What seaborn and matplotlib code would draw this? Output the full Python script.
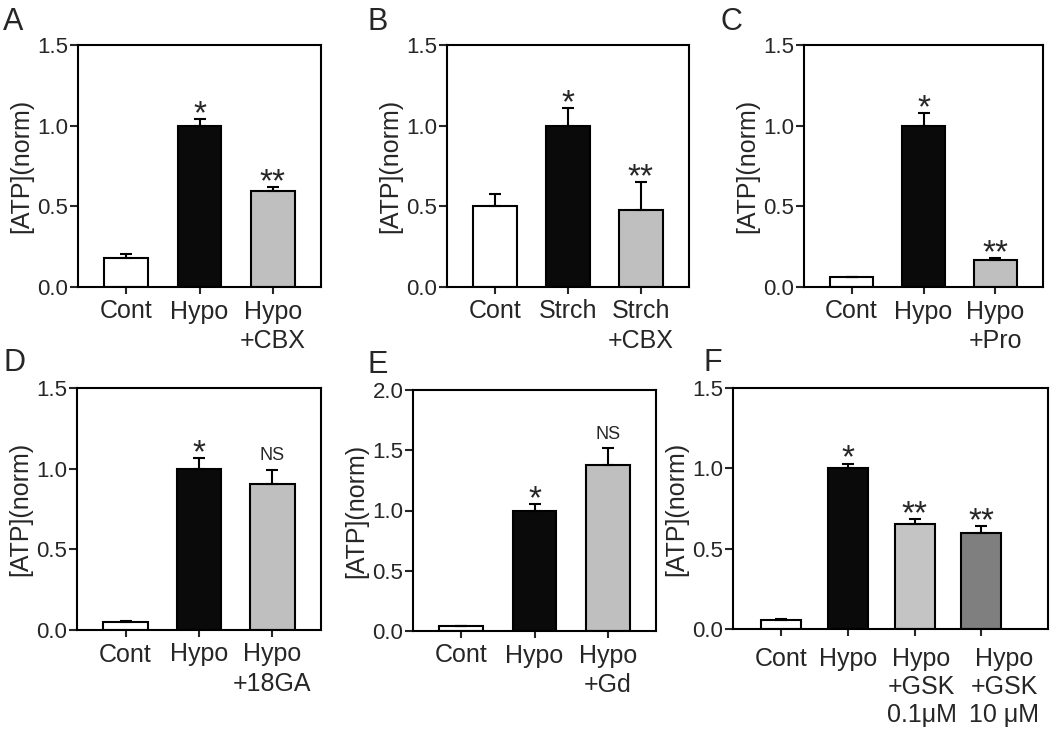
import numpy as np
import matplotlib
matplotlib.use("Agg")
import matplotlib.pyplot as plt
import matplotlib.transforms as mtransforms
import seaborn as sns

sns.set_style("ticks")
plt.rcParams["font.family"] = ["Liberation Sans", "DejaVu Sans"]

WHITE = "#ffffff"
BLACK = "#0a0a0a"
GRAY = "#bfbfbf"
DARK = "#7f7f7f"

# panel A
a_labels = ["Cont", "Hypo", "Hypo\n+CBX"]
a_means = [0.18, 1.00, 0.595]
a_errs = [0.022, 0.04, 0.025]
a_marks = ["", "*", "**"]

# panel B
b_labels = ["Cont", "Strch", "Strch\n+CBX"]
b_means = [0.50, 1.00, 0.477]
b_errs = [0.075, 0.11, 0.175]
b_marks = ["", "*", "**"]

# panel C
c_labels = ["Cont", "Hypo", "Hypo\n+Pro"]
c_means = [0.062, 1.00, 0.17]
c_errs = [0.003, 0.08, 0.008]
c_marks = ["", "*", "**"]

# panel D
d_labels = ["Cont", "Hypo", "Hypo\n+18GA"]
d_means = [0.052, 1.00, 0.903]
d_errs = [0.003, 0.064, 0.09]
d_marks = ["", "*", "NS"]

# panel E
e_labels = ["Cont", "Hypo", "Hypo\n+Gd"]
e_means = [0.041, 1.00, 1.378]
e_errs = [0.003, 0.05, 0.14]
e_marks = ["", "*", "NS"]

# panel F
f_labels = ["Cont", "Hypo", "Hypo\n+GSK\n0.1μM", "Hypo\n+GSK\n10 μM"]
f_means = [0.058, 1.00, 0.653, 0.595]
f_errs = [0.003, 0.03, 0.031, 0.048]
f_marks = ["", "*", "**", "**"]

three_colors = [WHITE, BLACK, GRAY]
four_colors = [WHITE, BLACK, "#c4c4c4", DARK]

fig = plt.figure(figsize=(10.5, 7.3), dpi=100)
W, H = 1050, 730


def add_ax(x0, y0, x1, y1):
    return fig.add_axes([x0 / W, 1 - y1 / H, (x1 - x0) / W, (y1 - y0) / H])


def draw_panel(ax, labels, means, errs, marks, colors, ymax, xlim, tickpad=4, spacing=1.3):
    n = len(means)
    sns.barplot(x=labels, y=means, hue=labels, palette=colors, legend=False,
                width=0.6, edgecolor="black", linewidth=1.5, ax=ax)
    ax.errorbar(range(n), means, yerr=[np.zeros(n), errs], fmt="none",
                ecolor="black", elinewidth=1.5, capsize=4, capthick=1.5)
    for i, (m, e, mk) in enumerate(zip(means, errs, marks)):
        if mk == "NS":
            ax.annotate(mk, xy=(i, m + e), xytext=(0, 4), textcoords="offset points",
                        ha="center", va="bottom", fontsize=13)
        elif mk:
            ax.annotate(mk, xy=(i, m + e), xytext=(0, -3), textcoords="offset points",
                        ha="center", va="baseline", fontsize=24)
    ax.set_ylim(0, ymax)
    ax.set_xlim(*xlim)
    ax.set_yticks(np.arange(0, ymax + 0.01, 0.5))
    ax.set_yticklabels([f"{v:.1f}" for v in np.arange(0, ymax + 0.01, 0.5)])
    ax.set_ylabel("[ATP](norm)", fontsize=18, labelpad=3)
    ax.set_xlabel("")
    for s in ax.spines.values():
        s.set_visible(True)
        s.set_linewidth(1.5)
        s.set_color("black")
    ax.tick_params(axis="y", labelsize=16, width=1.5, length=6, pad=1)
    ax.tick_params(axis="x", labelsize=18, width=1.5, length=5, pad=tickpad)
    for t in ax.get_xticklabels():
        t.set_linespacing(spacing)
        t.set_ha("center")


axA = add_ax(78, 45, 321, 287)
draw_panel(axA, a_labels, a_means, a_errs, a_marks, three_colors, 1.5, (-0.66, 2.66))
axB = add_ax(447, 45, 689, 287)
draw_panel(axB, b_labels, b_means, b_errs, b_marks, three_colors, 1.5, (-0.66, 2.66))
axC = add_ax(804, 45, 1043, 287)
draw_panel(axC, c_labels, c_means, c_errs, c_marks, three_colors, 1.5, (-0.66, 2.66))
axD = add_ax(77, 388, 321, 630)
draw_panel(axD, d_labels, d_means, d_errs, d_marks, three_colors, 1.5, (-0.66, 2.66))
axE = add_ax(413, 390, 656, 631)
draw_panel(axE, e_labels, e_means, e_errs, e_marks, three_colors, 2.0, (-0.66, 2.66))
axF = add_ax(733, 388, 1048, 629)
draw_panel(axF, f_labels, f_means, f_errs, f_marks, four_colors, 1.5, (-0.72, 4.0),
           tickpad=8, spacing=1.2)

# the two GSK labels sit a bit right of their ticks
for t, dx in zip(axF.get_xticklabels()[2:], [7, 23]):
    t.set_transform(t.get_transform() + mtransforms.ScaledTranslation(dx / 100, 0, fig.dpi_scale_trans))

for letter, x, y in [("A", 3, 7), ("B", 368, 7), ("C", 720, 7),
                     ("D", 3, 348), ("E", 368, 350), ("F", 703, 348)]:
    fig.text(x / W, 1 - y / H, letter, fontsize=22, va="top", ha="left")

fig.savefig("out.png", dpi=100)
